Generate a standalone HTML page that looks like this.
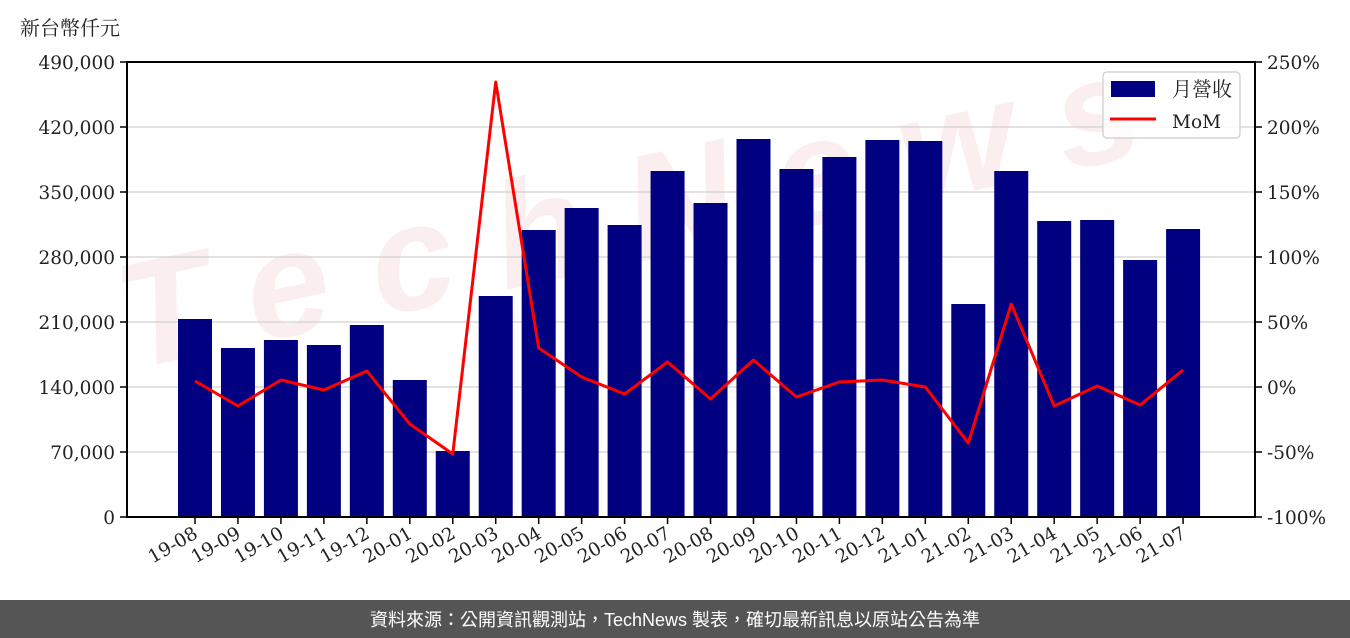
<!DOCTYPE html>
<html><head><meta charset="utf-8"><style>
body{margin:0;background:#fff;width:1350px;height:638px;overflow:hidden}
svg{display:block}
.t{font-family:"DejaVu Serif","Liberation Serif","Noto Serif CJK SC",serif;font-size:18.5px;fill:#222}
</style></head><body>
<svg width="1350" height="638" viewBox="0 0 1350 638">
<g opacity="0.07" fill="#d0202a" font-family="Liberation Sans,sans-serif" font-weight="bold" font-style="italic">
<text x="130" y="370" font-size="150" textLength="1040" transform="rotate(-12 130 370)">TechNews</text>
</g>
<text x="20" y="35" font-family="'Liberation Serif','Noto Serif CJK TC',serif" font-size="20" fill="#222">新台幣仟元</text>
<g stroke="#d0d0d0" stroke-width="1.2">
<line x1="127" x2="1255" y1="127" y2="127"/><line x1="127" x2="1255" y1="192" y2="192"/>
<line x1="127" x2="1255" y1="257" y2="257"/><line x1="127" x2="1255" y1="322" y2="322"/>
<line x1="127" x2="1255" y1="387" y2="387"/><line x1="127" x2="1255" y1="452" y2="452"/>
</g>
<g fill="#000080" id="bars"></g>
<polyline id="mom" fill="none" stroke="#ff0000" stroke-width="3" stroke-linejoin="round"/>
<rect x="127" y="62" width="1128" height="455" fill="none" stroke="#000" stroke-width="2"/>
<g id="ticks" stroke="#000" stroke-width="1.5"></g>
<g id="labels" class="t"></g>
<rect x="1103" y="72" width="137" height="66" rx="4" fill="#fff" fill-opacity="0.85" stroke="#ccc" stroke-width="1.2"/>
<rect x="1111" y="81" width="44" height="16" fill="#000080"/>
<line x1="1110" x2="1156" y1="119" y2="119" stroke="#ff0000" stroke-width="3"/>
<text x="1172" y="96" font-family="'Liberation Serif','Noto Serif CJK TC',serif" font-size="20" fill="#222">月營收</text>
<text x="1172" y="128" class="t">MoM</text>
<rect x="0" y="600" width="1350" height="38" fill="#555"/>
<text x="675" y="626" text-anchor="middle" font-family="'Liberation Sans','Noto Sans CJK TC',sans-serif" font-size="18" fill="#fff">資料來源：公開資訊觀測站，TechNews 製表，確切最新訊息以原站公告為準</text>
</svg>
<script>
var tops=[319,348,340,345,325,380,451,296,230,208,225,171,203,139,169,157,140,141,304,171,221,220,260,229];
var mom=[381,406,380,390,371,424,454,82,348,377,394,362,399,360,397,382,380,387,443,304,406,386,405,370];
var labs=["19-08","19-09","19-10","19-11","19-12","20-01","20-02","20-03","20-04","20-05","20-06","20-07","20-08","20-09","20-10","20-11","20-12","21-01","21-02","21-03","21-04","21-05","21-06","21-07"];
var ns="http://www.w3.org/2000/svg";
function el(t,a,p){var e=document.createElementNS(ns,t);for(var k in a)e.setAttribute(k,a[k]);p.appendChild(e);return e;}
var B=document.getElementById("bars"),T=document.getElementById("ticks"),L=document.getElementById("labels");
var pts=[];
for(var i=0;i<24;i++){var cx=195+i*42.96;
el("rect",{x:cx-17,y:tops[i],width:34,height:517-tops[i]},B);
el("line",{x1:cx,x2:cx,y1:517,y2:524},T);
var t=el("text",{x:cx+4,y:537,"text-anchor":"end",transform:"rotate(-30 "+(cx+4)+" 537)"},L);t.textContent=labs[i];
pts.push(cx+","+mom[i]);}
document.getElementById("mom").setAttribute("points",pts.join(" "));
var ly=["0","70,000","140,000","210,000","280,000","350,000","420,000","490,000"];
var ry=["-100%","-50%","0%","50%","100%","150%","200%","250%"];
for(var j=0;j<8;j++){var y=517-j*65;
el("line",{x1:120,x2:127,y1:y,y2:y},T);el("line",{x1:1255,x2:1262,y1:y,y2:y},T);
var a=el("text",{x:115,y:y+7,"text-anchor":"end"},L);a.textContent=ly[j];
var b=el("text",{x:1267,y:y+7},L);b.textContent=ry[j];}
</script>
</body></html>
